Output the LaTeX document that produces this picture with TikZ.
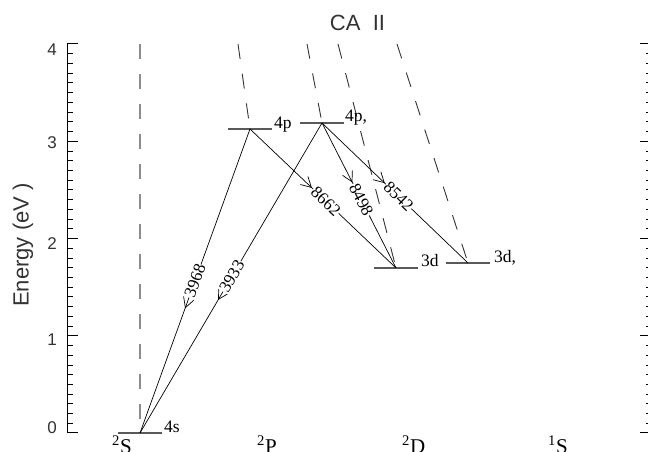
\documentclass[tikz,border=0pt]{standalone}
\usepackage{fontspec}
\setmainfont{Liberation Serif}
\setsansfont{Liberation Sans}
\usetikzlibrary{arrows.meta, calc, decorations.markings}

\tikzset{
  level/.style={line width=1.2pt, black!65},
  trans/.style={line width=0.7pt, postaction={decorate},
    decoration={markings, mark=at position #1 with
      {\arrow{Straight Barb[length=10pt, width=11pt, line width=0.7pt]}}}},
  wl/.style={sloped, fill=white, inner sep=0.5pt, font=\fontsize{17}{17}\selectfont},
  lvl/.style={anchor=base west, inner sep=0pt, font=\fontsize{17.5}{17.5}\selectfont},
  term/.style={anchor=base west, inner sep=0pt, font=\fontsize{21}{21}\selectfont},
  ax/.style={inner sep=0pt, text=black!80, font=\sffamily\fontsize{17}{17}\selectfont},
  guide/.style={dash pattern=on 15pt off 15pt, line width=0.9pt}
}

\begin{document}
\begin{tikzpicture}[x=1pt, y=97.25pt]
  \useasboundingbox (0,-0.1954) rectangle (648,4.4524);

  % Axes (energy in eV)
  \draw[line width=1pt] (78,4) -- (67,4) -- (67,0) -- (78,0);
  \foreach \e in {1,2,3} \draw[line width=1pt] (67,\e) -- (78,\e);
  \foreach \i in {1,...,39} \draw[line width=0.8pt] (67,\i/10) -- (72.5,\i/10);
  \foreach \e in {0,...,4} \draw[line width=1pt] (640,\e) -- (648,\e);
  \foreach \i in {1,...,39} \draw[line width=0.8pt] (645.5,\i/10) -- (648,\i/10);

  % Tick labels
  \foreach \e/\dy in {0/5, 1/-4, 2/-5, 3/-1, 4/-6}
    \node[ax] (n\e) at (52,\e) [yshift=\dy pt] {\e};
  \node[ax, rotate=90, font=\sffamily\fontsize{22}{22}\selectfont] (ylab) at (23,1.933) {Energy (eV )};
  \node[ax, font=\sffamily\fontsize{22}{22}\selectfont] (title) at (357.5,4.216) {CA\ \ II};

  % Levels
  \coordinate (s4)  at (140,0);
  \coordinate (p4a) at (250,3.126);
  \coordinate (p4b) at (322,3.188);
  \coordinate (d3a) at (396,1.697);
  \coordinate (d3b) at (468,1.748);

  % Dashed guides
  \coordinate (g0) at (140,4);
  \coordinate (g1) at (238,4);
  \coordinate (g2) at (307,4);
  \coordinate (g3) at (338,4);
  \coordinate (g4) at (397,4);
  \draw[guide, black!45, line width=1.4pt] (g0) -- (s4);
  \draw[guide, black!80] (g1) -- (p4a);
  \draw[guide, black!80] (g2) -- (p4b);
  \draw[guide, black!80] (g3) -- (d3a);
  \draw[guide, black!80] (g4) -- (d3b);

  % Level bars and names
  \foreach \l in {s4,p4a,p4b,d3a,d3b}
    \draw[level] ($(\l)+(-22,0)$) -- ($(\l)+(22,0)$);
  \node[lvl] (ls4)  at ($(s4)+(24,0.01)$)  {4s};
  \node[lvl] (lp4a) at ($(p4a)+(24,0.01)$) {4p};
  \node[lvl] (lp4b) at ($(p4b)+(23,0.01)$) {4p,};
  \node[lvl] (ld3a) at ($(d3a)+(25,0.01)$) {3d};
  \node[lvl] (ld3b) at ($(d3b)+(26,0.01)$) {3d,};

  % Transitions
  \draw[trans=0.59]  (p4a) -- node[wl, pos=0.5]   (w3968) {3968} (s4);
  \draw[trans=0.571] (p4b) -- node[wl, pos=0.495] (w3933) {3933} (s4);
  \draw[trans=0.424] (p4a) -- node[wl, pos=0.52]  (w8662) {8662} (d3a);
  \draw[trans=0.41]  (p4b) -- node[wl, pos=0.53]  (w8498) {8498} (d3a);
  \draw[trans=0.43]  (p4b) -- node[wl, pos=0.525] (w8542) {8542} (d3b);

  % Terms
  \node[term] (tS) at (112,-0.21) {\textsuperscript{2}S};
  \node[term] (tP) at (257,-0.21) {\textsuperscript{2}P};
  \node[term] (tD) at (402,-0.21) {\textsuperscript{2}D};
  \node[term] (t1S) at (548,-0.21) {\textsuperscript{1}S};
\end{tikzpicture}
\end{document}
